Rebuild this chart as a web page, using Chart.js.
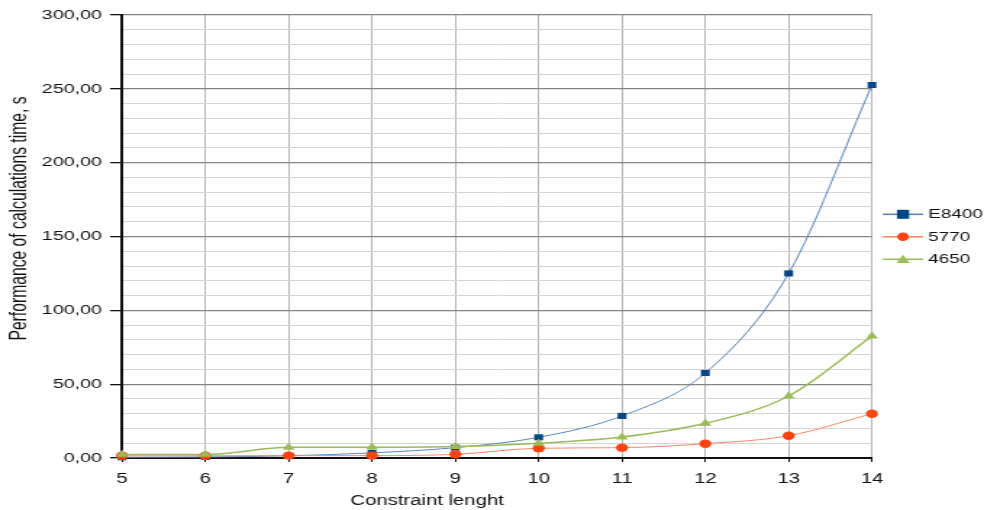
<!DOCTYPE html>
<html>
<head>
<meta charset="utf-8">
<script src="https://cdn.jsdelivr.net/npm/chart.js@4"></script>
<style>
  html, body { margin: 0; padding: 0; background: #fff; overflow: hidden; }
  /* the chart is laid out at 679px and widened to the full 984px page */
  #wrap { width: 679px; height: 510px; transform: scale(1.44919, 1); transform-origin: 0 0; }
  #c { display: block; }
</style>
</head>
<body>
<div id="wrap"><canvas id="c" width="679" height="510"></canvas></div>
<script>
// Constraint length values on the x axis
const lengths = [5, 6, 7, 8, 9, 10, 11, 12, 13, 14];
// Calculation time, seconds
const e8400 = [0.5, 0.7, 1.5, 3.5, 7.0, 14.0, 28.5, 57.6, 125.0, 252.6];
const r5770 = [1.5, 1.5, 1.6, 1.6, 2.5, 6.6, 7.0, 9.7, 15.1, 30.0];
const r4650 = [2.4, 2.4, 7.2, 7.3, 7.8, 10.0, 14.2, 23.5, 42.0, 82.6];
const seriesNames = ['E8400', '5770', '4650'];
const yTickLabels = ['0,00', '50,00', '100,00', '150,00', '200,00', '250,00', '300,00'];
const yTitle = 'Performance of calculations time, s';
const xTitle = 'Constraint lenght';

const FONT = '"Liberation Sans", Arial, sans-serif';

const styles = [
  { line: '#5a87bd', fill: '#004586', point: 'rect', radius: 4.3, width: 1 },
  { line: '#ff8566', fill: '#ff420e', point: 'circle', radius: 4.2, width: 1 },
  { line: '#9bbb59', fill: '#9bbb59', point: 'triangle', radius: 4.8, width: 1.5 }
];

const seriesValues = [e8400, r5770, r4650];
const toPoints = vals => vals.map((v, i) => ({ x: lengths[i], y: v }));

const datasets = seriesNames.map((name, i) => ({
  label: name,
  data: toPoints(seriesValues[i]),
  borderColor: styles[i].line,
  borderWidth: styles[i].width,
  backgroundColor: styles[i].fill,
  pointBackgroundColor: styles[i].fill,
  pointBorderColor: styles[i].fill,
  pointBorderWidth: 0,
  pointStyle: styles[i].point,
  pointRadius: styles[i].radius,
  cubicInterpolationMode: 'monotone',
  clip: false,
  order: 3 - i
}));

// Axis titles, each set a little off the middle of its axis
const axisTitles = {
  id: 'axisTitles',
  afterDraw(chart) {
    const ctx = chart.ctx;
    ctx.save();
    ctx.fillStyle = '#111';
    ctx.textAlign = 'center';
    ctx.textBaseline = 'middle';
    ctx.font = '14px ' + FONT;
    ctx.fillText(xTitle, 294.7, 501.5);
    ctx.translate(13.2, 218.5);
    ctx.rotate(-Math.PI / 2);
    ctx.font = '15.7px ' + FONT;
    ctx.fillText(yTitle, 0, 0);
    ctx.restore();
  }
};

// Legend with a line segment and marker for each series
const sideLegend = {
  id: 'sideLegend',
  afterDraw(chart) {
    const ctx = chart.ctx;
    const x0 = 609.2, x1 = 637, mx = 623.1, tx = 640.6;
    const rows = [214.3, 236.8, 259.3];
    ctx.save();
    seriesNames.forEach((name, i) => {
      const y = rows[i];
      const s = styles[i];
      ctx.strokeStyle = s.line;
      ctx.lineWidth = 1.6;
      ctx.beginPath();
      ctx.moveTo(x0, y);
      ctx.lineTo(x1, y);
      ctx.stroke();
      ctx.fillStyle = s.fill;
      ctx.beginPath();
      if (s.point === 'rect') {
        ctx.rect(mx - 4.2, y - 4.5, 8.4, 9);
      } else if (s.point === 'circle') {
        ctx.ellipse(mx, y, 4, 4.3, 0, 0, Math.PI * 2);
      } else {
        ctx.moveTo(mx, y - 4.5);
        ctx.lineTo(mx + 4.6, y + 3.8);
        ctx.lineTo(mx - 4.6, y + 3.8);
        ctx.closePath();
      }
      ctx.fill();
      ctx.fillStyle = '#111';
      ctx.font = '13px ' + FONT;
      ctx.textBaseline = 'middle';
      ctx.textAlign = 'left';
      ctx.fillText(name, tx, y + 0.5);
    });
    ctx.restore();
  }
};

new Chart(document.getElementById('c'), {
  type: 'line',
  data: { datasets },
  plugins: [axisTitles, sideLegend],
  options: {
    responsive: false,
    animation: false,
    devicePixelRatio: 1,
    layout: { padding: { top: 15, right: 77.3, left: 0, bottom: 0 } },
    plugins: {
      legend: { display: false },
      tooltip: { enabled: false }
    },
    scales: {
      x: {
        type: 'linear',
        min: lengths[0],
        max: lengths[lengths.length - 1],
        border: { color: '#111', width: 2 },
        grid: {
          color: '#b4b4b4',
          lineWidth: 1,
          tickLength: 4,
          tickColor: '#111'
        },
        ticks: {
          stepSize: 1,
          padding: 8.6,
          color: '#111',
          font: { family: FONT, size: 14 },
          callback: v => String(v)
        },
        afterFit: s => { s.height = 52; }
      },
      y: {
        min: 0,
        max: 300,
        border: { color: '#111', width: 2 },
        grid: {
          color: ctx => (ctx.tick && ctx.tick.value % 50 === 0) ? '#858585' : '#d6d6d6',
          lineWidth: ctx => (ctx.tick && ctx.tick.value % 50 === 0) ? 1.3 : 1,
          tickLength: 8.3,
          tickColor: ctx => (ctx.tick && ctx.tick.value % 50 === 0) ? '#111' : 'rgba(0,0,0,0)'
        },
        ticks: {
          stepSize: 10,
          padding: 5.5,
          autoSkip: false,
          color: '#111',
          font: { family: FONT, size: 13.6 },
          callback: v => (v % 50 === 0 ? yTickLabels[v / 50] : '')
        },
        afterFit: s => { s.width = 84.2; }
      }
    }
  }
});
</script>
</body>
</html>
